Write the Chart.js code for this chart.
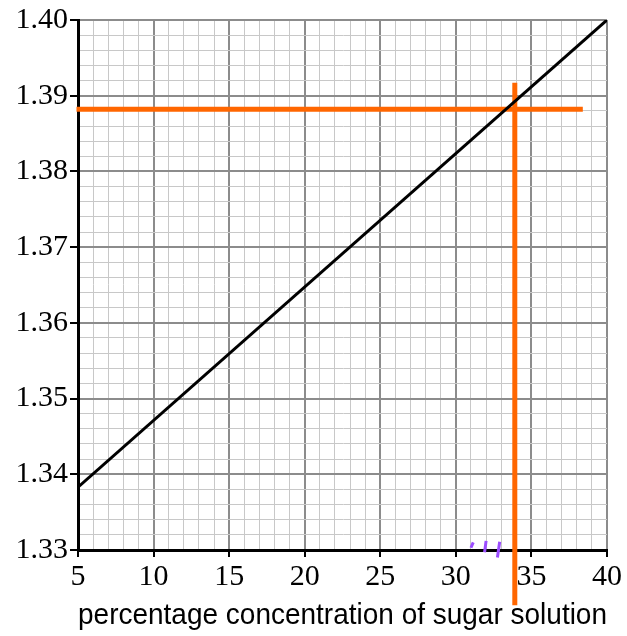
<!DOCTYPE html>
<html>
<head>
<meta charset="utf-8">
<script src="https://cdn.jsdelivr.net/npm/chart.js@4"></script>
<style>
  html, body { margin: 0; padding: 0; background: #fff; }
  #wrap { width: 627px; height: 636px; }
</style>
</head>
<body>
<div id="wrap"><canvas id="myChart" width="627" height="636"></canvas></div>
<script>
  // calibration line (concentration %, refractive index)
  var lineX = [5, 40];
  var lineY = [1.3383, 1.4];

  // orange reading lines
  var hLineX = [4.9, 38.4];
  var hLineY = [1.3882, 1.3882];
  var vLineX = [33.9, 33.9];
  var vLineY = [1.3917, 1.3227];

  // purple hand marks near the axis
  var markX = [31.0, 31.15, null, 31.9, 32.0, null, 32.75, 32.9];
  var markY = [1.3303, 1.3310, null, 1.3297, 1.3312, null, 1.3290, 1.3311];

  function pts(xs, ys) {
    return xs.map(function (x, i) { return x === null ? { x: NaN, y: NaN } : { x: x, y: ys[i] }; });
  }

  var ctx = document.getElementById("myChart").getContext("2d");
  new Chart(ctx, {
    type: "scatter",
    data: {
      datasets: [
        {
          data: pts(lineX, lineY),
          showLine: true,
          borderColor: "#000",
          borderWidth: 3,
          pointRadius: 0,
          order: 0
        },
        {
          data: pts(hLineX, hLineY),
          showLine: true,
          borderColor: "#ff6600",
          borderWidth: 5,
          pointRadius: 0,
          clip: false,
          order: 1
        },
        {
          data: pts(vLineX, vLineY),
          showLine: true,
          borderColor: "#ff6600",
          borderWidth: 5,
          pointRadius: 0,
          clip: false,
          order: 1
        },
        {
          data: pts(markX, markY),
          showLine: true,
          spanGaps: false,
          borderColor: "#9b4dff",
          borderWidth: 3,
          pointRadius: 0,
          clip: false,
          order: 2
        }
      ]
    },
    options: {
      responsive: false,
      animation: false,
      layout: { padding: { top: 20, right: 20, left: 0, bottom: 0 } },
      plugins: {
        legend: { display: false },
        tooltip: { enabled: false }
      },
      scales: {
        x: {
          type: "linear",
          min: 5,
          max: 40,
          afterFit: function (scale) { scale.height = 86; },
          ticks: {
            stepSize: 1,
            autoSkip: false,
            maxRotation: 0,
            padding: 2,
            color: "#000",
            font: { family: "Liberation Serif", size: 30 },
            callback: function (v, i) { return i % 5 === 0 ? String(v) : ""; }
          },
          grid: {
            color: function (c) { return c.index % 5 === 0 ? "#8c8c8c" : "#c8c8c8"; },
            lineWidth: function (c) { return c.index % 5 === 0 ? 2 : 1; },
            tickLength: 7,
            tickColor: function (c) { return c.index % 5 === 0 ? "#000" : "rgba(0,0,0,0)"; }
          },
          border: { color: "#000", width: 3 },
          title: {
            display: true,
            text: "percentage concentration of sugar solution",
            color: "#000",
            font: { family: "Liberation Sans", size: 30 },
            padding: { top: 0, bottom: 2 }
          }
        },
        y: {
          type: "linear",
          min: 1.33,
          max: 1.4,
          afterFit: function (scale) { scale.width = 78; },
          ticks: {
            stepSize: 0.002,
            autoSkip: false,
            padding: 2,
            color: "#000",
            font: { family: "Liberation Serif", size: 30 },
            callback: function (v, i) { return i % 5 === 0 ? Number(v).toFixed(2) : ""; }
          },
          grid: {
            color: function (c) { return c.index % 5 === 0 ? "#8c8c8c" : "#c8c8c8"; },
            lineWidth: function (c) { return c.index % 5 === 0 ? 2 : 1; },
            tickLength: 8,
            tickColor: function (c) { return c.index % 5 === 0 ? "#000" : "rgba(0,0,0,0)"; }
          },
          border: { color: "#000", width: 3 }
        }
      }
    }
  });
</script>
</body>
</html>
